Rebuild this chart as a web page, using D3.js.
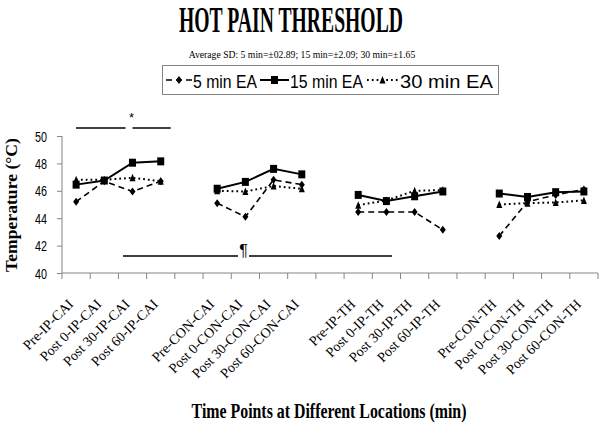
<!DOCTYPE html>
<html><head><meta charset="utf-8">
<script src="https://cdn.jsdelivr.net/npm/d3@7"></script>
<style>body{margin:0;background:#fff}svg{display:block}</style>
</head><body>
<svg id="c" width="600" height="438"></svg>
<script>
const categories = ["Pre-IP-CAI","Post 0-IP-CAI","Post 30-IP-CAI","Post 60-IP-CAI","",
  "Pre-CON-CAI","Post 0-CON-CAI","Post 30-CON-CAI","Post 60-CON-CAI","",
  "Pre-IP-TH","Post 0-IP-TH","Post 30-IP-TH","Post 60-IP-TH","",
  "Pre-CON-TH","Post 0-CON-TH","Post 30-CON-TH","Post 60-CON-TH"];
const ea5  = [45.2,46.7,45.95,46.7,null, 45.1,44.1,46.8,46.45,null, 44.45,44.45,44.45,43.15,null, 42.7,45.2,45.7,46.1];
const ea15 = [46.45,46.75,48.05,48.15,null, 46.15,46.65,47.6,47.2,null, 45.7,45.25,45.6,45.95,null, 45.8,45.55,45.9,45.95];
const ea30 = [46.8,46.8,46.95,46.7,null, 46.0,45.95,46.35,46.15,null, 44.95,45.3,46.0,46.05,null, 45.0,45.1,45.15,45.3];
const yTicks = [40,42,44,46,48,50];
const seriesNames = ["5 min EA","15 min EA","30 min EA"];

const svg = d3.select("#c");
const x = d3.scaleBand().domain(d3.range(categories.length)).range([62,598]).padding(0);
const y = d3.scaleLinear().domain([40,50]).range([273,136]);
const cx = i => x(i) + x.bandwidth()/2;
const axisCol = "#858585";

// text placed at (px,py), rotated by rot, squeezed horizontally to width w
function fitText(parent, txt, px, py, w, rot, font, size, weight, anchor){
  const t = parent.append("text").attr("x",0).attr("y",0).attr("text-anchor",anchor||"middle")
    .style("font-family",font).style("font-size",size+"px").style("font-weight",weight||"normal")
    .text(txt);
  const n = t.node().getComputedTextLength();
  const s = w ? w/n : 1;
  t.attr("transform",`translate(${px},${py}) rotate(${rot||0}) scale(${s},1)`);
  return t;
}

// title & subtitle
fitText(svg,"HOT PAIN THRESHOLD",291,32,224,0,"Liberation Serif",35,"bold");
fitText(svg,"Average SD: 5  min=\u00b102.89; 15 min=\u00b12.09; 30 min=\u00b11.65",302,58,227,0,"Liberation Serif",10);

// axes
const yAxis = svg.append("g").attr("transform","translate(62,0)")
  .call(d3.axisLeft(y).tickValues(yTicks).tickSize(5).tickFormat(""));
yAxis.select(".domain").attr("stroke",axisCol).attr("d","M0,136V273");
yAxis.selectAll(".tick line").attr("stroke",axisCol);
yTicks.forEach(v=>fitText(svg,String(v),47,y(v)+5.5,12,0,"Liberation Sans",15,"normal","end"));

const xAxis = svg.append("g").attr("transform","translate(0,273)")
  .call(d3.axisBottom(x).tickSize(0).tickFormat(""));
xAxis.select(".domain").attr("stroke",axisCol).attr("d","M62,0H598");
const bounds = d3.range(categories.length+1).map(i => i < categories.length ? x(i) : x(i-1)+x.bandwidth());
xAxis.selectAll(".bt").data(bounds).join("line").attr("class","bt")
  .attr("x1",d=>d).attr("x2",d=>d).attr("y1",0).attr("y2",6).attr("stroke",axisCol);
const xl = svg.append("g");
categories.forEach((c,i)=>{ if(c) fitText(xl,c,cx(i)-2,305,null,-45,"Liberation Serif",14,"normal","end"); });

// axis titles
fitText(svg,"Temperature (\u00b0C)",17,205,134,-90,"Liberation Serif",17,"bold");
fitText(svg,"Time Points at Different Locations (min)",329,418,275,0,"Liberation Serif",22,"bold");

// series
const styles = [
  {data:ea5, dash:"6,4", w:1.6, marker:"diamond"},
  {data:ea15, dash:null, w:2, marker:"square"},
  {data:ea30, dash:"1.8,3", w:2, marker:"triangle"}
];
function markerPath(type, px, py){
  if(type==="square") return `M${px-3.5},${py-4}h7v8h-7Z`;
  if(type==="diamond") return `M${px},${py-4}L${px+3},${py}L${px},${py+4}L${px-3},${py}Z`;
  return `M${px},${py-4}L${px+3},${py+3.5}L${px-3},${py+3.5}Z`;
}
const line = d3.line().defined(d=>d.v!==null).x(d=>cx(d.i)).y(d=>y(d.v));
const plot = svg.append("g");
styles.forEach(s=>{
  const pts = s.data.map((v,i)=>({v,i}));
  plot.append("path").datum(pts).attr("d",line).attr("fill","none").attr("stroke","#000")
    .attr("stroke-width",s.w).attr("stroke-dasharray",s.dash);
});
styles.forEach(s=>{
  const pts = s.data.map((v,i)=>({v,i})).filter(d=>d.v!==null);
  plot.selectAll(null).data(pts).join("path")
    .attr("d",d=>markerPath(s.marker,cx(d.i),y(d.v))).attr("fill","#000");
});

// significance annotations
const ann = svg.append("g").attr("stroke","#000").attr("stroke-width",1.5);
ann.append("line").attr("x1",cx(0)).attr("x2",cx(2)-7).attr("y1",128).attr("y2",128);
ann.append("line").attr("x1",cx(2)).attr("x2",cx(3)+10).attr("y1",128).attr("y2",128);
fitText(svg,"*",cx(2)-1,122,null,0,"Liberation Sans",13);
ann.append("line").attr("x1",123).attr("x2",238).attr("y1",256).attr("y2",256);
ann.append("line").attr("x1",249).attr("x2",392).attr("y1",256).attr("y2",256);
fitText(svg,"\u00b6",243.5,256,null,0,"Liberation Sans",16);

// legend
const lg = svg.append("g");
lg.append("rect").attr("x",162.5).attr("y",65.5).attr("width",336).attr("height",29)
  .attr("fill","#fff").attr("stroke",axisCol);
const legendItems = [
  {x0:166,x1:192,tx:193,tl:64,s:styles[0]},
  {x0:260,x1:289,tx:290,tl:73,s:styles[1]},
  {x0:367,x1:398,tx:400,tl:93,s:styles[2]}
];
legendItems.forEach((it,k)=>{
  lg.append("line").attr("x1",it.x0).attr("x2",it.x1).attr("y1",80).attr("y2",80)
    .attr("stroke","#000").attr("stroke-width",it.s.w).attr("stroke-dasharray",it.s.dash);
  lg.append("path").attr("d",markerPath(it.s.marker,(it.x0+it.x1)/2,80)).attr("fill","#000");
  fitText(lg,seriesNames[k],it.tx,87.5,it.tl,0,"Liberation Sans",18,"normal","start");
});
</script>
</body></html>
